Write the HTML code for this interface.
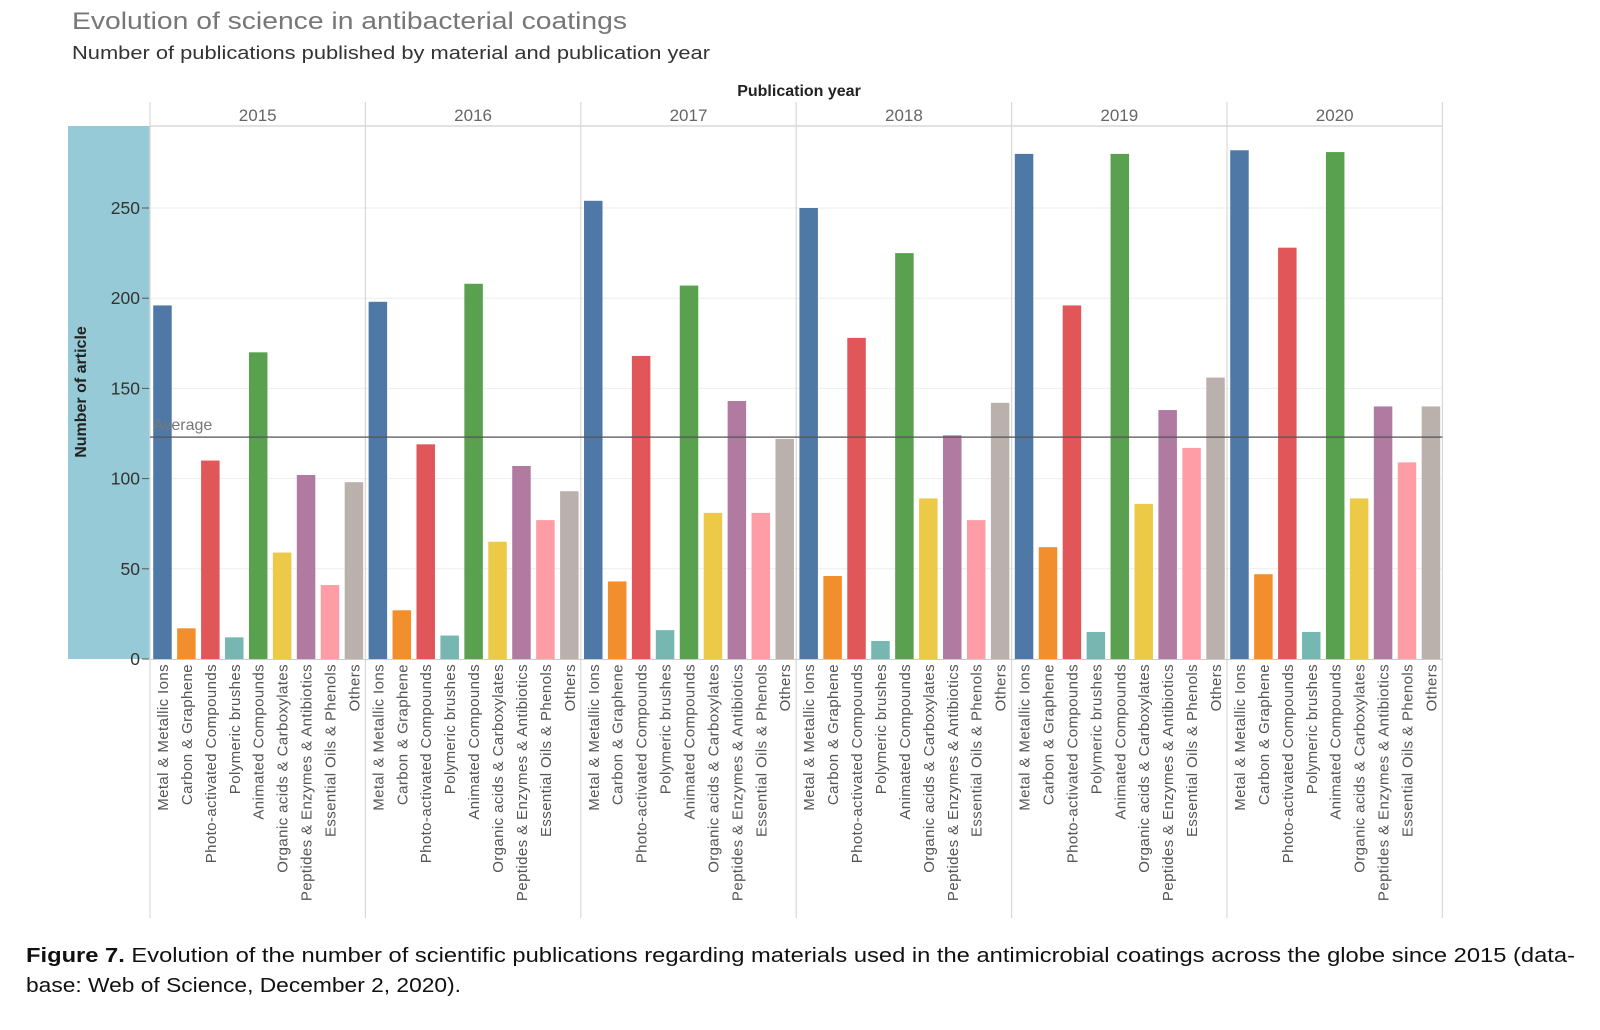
<!DOCTYPE html>
<html><head><meta charset="utf-8">
<style>
html,body{margin:0;padding:0;background:#fff;}
body{width:1600px;height:1025px;overflow:hidden;font-family:"Liberation Sans",sans-serif;}
svg text{font-family:"Liberation Sans",sans-serif;}
</style></head>
<body>
<svg id="chart" width="1600" height="1025" viewBox="0 0 1600 1025">
  <text x="72" y="29" font-size="24" fill="#777" textLength="555" lengthAdjust="spacingAndGlyphs">Evolution of science in antibacterial coatings</text>
  <text x="72" y="59" font-size="18.5" fill="#333" textLength="638" lengthAdjust="spacingAndGlyphs">Number of publications published by material and publication year</text>
  <text x="799" y="96" font-size="16" font-weight="bold" fill="#222" text-anchor="middle">Publication year</text>
  <rect x="68" y="126" width="82" height="533" fill="#96cad6"/>
  <text transform="translate(86,392) rotate(-90)" font-size="16" font-weight="bold" fill="#222" text-anchor="middle">Number of article</text>
  <g id="grid"></g>
  <g id="bars"></g>
  <g id="labels"></g>
  <g id="frame"></g>
  <text x="26" y="962" font-size="20.5" fill="#111" textLength="1549" lengthAdjust="spacingAndGlyphs"><tspan font-weight="bold">Figure 7.</tspan>  Evolution of the number of scientific publications regarding materials used in the antimicrobial coatings across the globe since 2015 (data-</text>
  <text x="26" y="992" font-size="20.5" fill="#111" textLength="435" lengthAdjust="spacingAndGlyphs">base: Web of Science, December 2, 2020).</text>
</svg>
<script>
const years = ["2015","2016","2017","2018","2019","2020"];
const categories = ["Metal & Metallic Ions","Carbon & Graphene","Photo-activated Compounds","Polymeric brushes","Animated Compounds","Organic acids & Carboxylates","Peptides & Enzymes & Antibiotics","Essential Oils & Phenols","Others"];
const colors = ["#4e79a7","#f28e2b","#e15759","#76b7b2","#59a14f","#edc948","#b07aa1","#ff9da7","#bab0ac"];
const values2015 = [196,17,110,12,170,59,102,41,98];
const values2016 = [198,27,119,13,208,65,107,77,93];
const values2017 = [254,43,168,16,207,81,143,81,122];
const values2018 = [250,46,178,10,225,89,124,77,142];
const values2019 = [280,62,196,15,280,86,138,117,156];
const values2020 = [282,47,228,15,281,89,140,109,140];
const series = [values2015,values2016,values2017,values2018,values2019,values2020];
const yTicks = [0,50,100,150,200,250];
const averageValue = 123;

const NS = "http://www.w3.org/2000/svg";
const plotLeft = 150, panelW = 215.4, y0 = 659, pxPerUnit = 90.2/50, headerY = 126;
const yScale = v => y0 - v * pxPerUnit;
const xPanel = i => plotLeft + i * panelW;
const bandW = panelW / categories.length;
const xBar = (p, c) => xPanel(p) + c * bandW + (bandW - 18.5) / 2 + 0.5;

function mk(tag, attrs, parent) {
  const e = document.createElementNS(NS, tag);
  for (const k in attrs) e.setAttribute(k, attrs[k]);
  parent.appendChild(e);
  return e;
}
const grid = document.getElementById("grid");
const barsG = document.getElementById("bars");
const labelsG = document.getElementById("labels");
const frame = document.getElementById("frame");
const plotRight = xPanel(years.length);

yTicks.forEach(t => {
  const y = yScale(t);
  if (t > 0) {
    const g = mk("line", {x1: plotLeft, x2: plotRight, y1: y, y2: y, stroke: "#eeeeee", "stroke-width": 1}, grid);
    
    
  }
  const tk = mk("line", {x1: 142, x2: 149, y1: y, y2: y, stroke: "#555", "stroke-width": 1}, grid);
  
  
  const tx = mk("text", {x: 140, y: y + 6, "font-size": 17.5, fill: "#333", "text-anchor": "end"}, grid);
  tx.textContent = t;
  
  
});

series.forEach((vals, p) => {
  vals.forEach((v, c) => {
    const r = mk("rect", {x: xBar(p, c), y: yScale(v), width: 18.5, height: y0 - yScale(v), fill: colors[c]}, barsG);
    
    
    const lx = xBar(p, c) + 9.25 + 5.5;
    const lb = mk("text", {transform: "translate(" + lx + ",664) rotate(-90)", "font-size": 15, "letter-spacing": 0.4, fill: "#555", "text-anchor": "end"}, labelsG);
    lb.textContent = categories[c];
    
    
  });
  const yl = mk("text", {x: xPanel(p) + panelW / 2, y: 121, "font-size": 17, fill: "#666", "text-anchor": "middle"}, frame);
  yl.textContent = years[p];
  
  
});

for (let i = 0; i <= years.length; i++) {
  const l = mk("line", {x1: xPanel(i), x2: xPanel(i), y1: 102, y2: 918, stroke: "#d8d8d8", "stroke-width": 1.2}, frame);
  
  
}
const hl = mk("line", {x1: plotLeft, x2: plotRight, y1: headerY, y2: headerY, stroke: "#d8d8d8", "stroke-width": 1.5}, frame);


const bl = mk("line", {x1: plotLeft, x2: plotRight, y1: y0 + 0.5, y2: y0 + 0.5, stroke: "#ccc", "stroke-width": 1}, frame);



const ay = yScale(averageValue);
const av = mk("line", {x1: plotLeft, x2: plotRight, y1: ay, y2: ay, stroke: "#555", "stroke-width": 1.5, opacity: 0.85}, frame);


const at = mk("text", {x: 153, y: ay - 7, "font-size": 16, fill: "#777"}, frame);
at.textContent = "Average";


</script>
</body></html>
